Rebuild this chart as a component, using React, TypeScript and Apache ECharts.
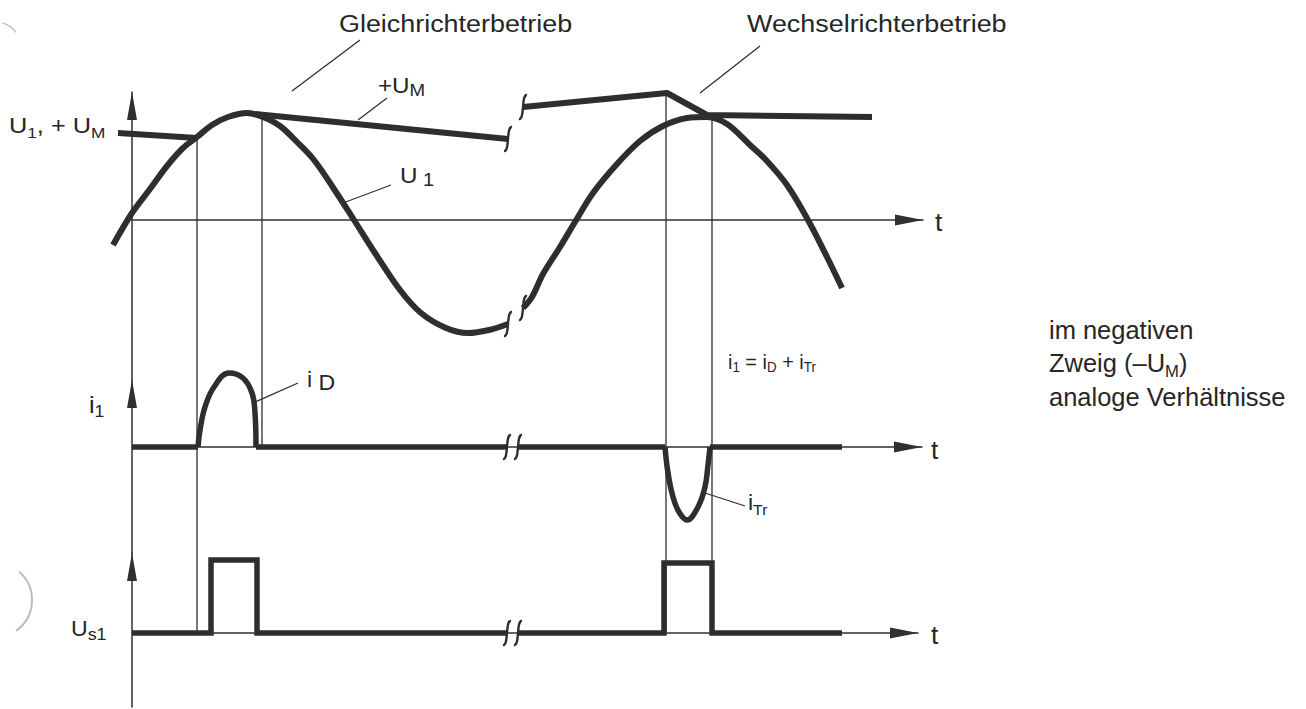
import React, { useEffect, useRef } from "react";
import * as echarts from "echarts";

const FONT = '"Liberation Sans", Arimo, Arial, Helvetica, sans-serif';
const INK = "#2e2e2e";
const THIN = "#303030";
const TEXT = "#262626";

// ---------- Top panel: U1 and +U_M  (t in time units, values in voltage units) ----------
const U1_A: [number, number][] = [
  [-1.9, -2.5], [0, 0.7], [1.8, 3.1], [3.5, 5.4], [5.1, 7.2], [6.5, 8.3], [8.0, 9.5],
  [9.6, 10.3], [11.5, 10.7], [13.1, 10.3], [14.8, 9.4], [16.5, 7.8], [18.2, 6.0],
  [20.2, 3.1], [22.2, 0], [24.3, -3.3], [26.8, -7.0], [28.9, -9.3], [31.4, -10.8],
  [33.6, -11.3], [35.7, -11.0], [37.6, -10.4],
];
const U1_B: [number, number][] = [
  [39.1, -8.8], [40.0, -7.7], [41.1, -5.4], [42.8, -2.7], [44.3, -0.2], [46.1, 2.7],
  [48.5, 5.6], [50.8, 7.9], [53.1, 9.4], [55.5, 10.2], [57.5, 10.3], [59.5, 9.6],
  [61.8, 7.5], [63.4, 6.0], [65.5, 3.5], [67.6, 0], [69.5, -3.7], [71.0, -6.8],
];
const UM_A: [number, number][] = [[-1.4, 8.7], [6.5, 8.2]];
const UM_B: [number, number][] = [[12.3, 10.6], [37.6, 8.1]];
const UM_C: [number, number][] = [[39.1, 11.3], [53.5, 12.7], [57.5, 10.5], [74.0, 10.3]];

// ---------- Middle panel: i1 ----------
const I1_BASE: (number | string)[][] = [
  [0, 0], [6.6, 0], [6.6, "-"], [12.4, 0], [37.5, 0], [37.5, "-"],
  [38.6, 0], [53.3, 0], [53.3, "-"], [57.8, 0], [71.0, 0],
];
const I_D: [number, number][] = [
  [6.6, 0], [6.8, 1.7], [7.3, 4.0], [8.2, 6.0], [9.7, 7.4], [11.1, 6.9], [12.0, 5.4], [12.3, 3.4], [12.4, 0],
];
const I_TR: [number, number][] = [
  [53.3, 0], [53.6, -2.6], [54.1, -5.0], [54.7, -6.5], [55.5, -7.3], [56.6, -6.0], [57.3, -4.0], [57.6, -1.8], [57.8, 0],
];

// ---------- Bottom panel: Us1 (gate pulses) ----------
const US1: (number | string)[][] = [
  [0, 0], [7.9, 0], [7.9, 7.3], [12.5, 7.3], [12.5, 0], [37.5, 0], [37.5, "-"],
  [38.6, 0], [53.2, 0], [53.2, 7.0], [58.0, 7.0], [58.0, 0], [71.0, 0],
];

// switching instants (thin vertical guides)
const SWITCH_T = [6.5, 13.0, 53.4, 58.0];
const SWITCH_TOP_V = [8.2, 10.4, 12.7, 10.4];
const SWITCH_TO_US1 = [true, false, true, true];

// time-axis breaks
const BREAKS_TOP: [number, number][] = [[37.6, 8.1], [39.1, 11.3], [37.6, -10.4], [39.1, -8.8]];
const BREAKS_I1: [number, number][] = [[37.5, 0], [38.6, 0]];
const BREAKS_US1: [number, number][] = [[37.5, 0], [38.6, 0]];

// axis ranges
const Y_RANGES: [number, number][] = [[-16, 12.8], [-10.6, 6.7], [-7.4, 8.0]];
const X_MAX = [79.1, 79.0, 78.6];
const X_MIN_TOP_DATA = -3.2;
const GRID_TOP = [92, 380, 553];
const AXIS_LEFT = 132;
const PX_PER_UNIT = 10;

function richLabel(x: number, y: number, tpl: string, S: number, s: number, d: number, sx: number) {
  const L = Math.round(S * 1.25);
  const h = Math.max(1, L - 0.7 * (S - s) - 2 * d);
  return {
    type: "text",
    x,
    y,
    scaleX: sx,
    silent: true,
    z: 20,
    style: {
      text: tpl,
      fontFamily: FONT,
      fontSize: S,
      fill: TEXT,
      align: "left",
      verticalAlign: "middle",
      rich: {
        n: { fontSize: S, fontFamily: FONT, lineHeight: L, fill: TEXT },
        s: { fontSize: s, fontFamily: FONT, lineHeight: h, verticalAlign: "bottom", fill: TEXT },
      },
    },
  };
}

function leader(x1: number, y1: number, x2: number, y2: number) {
  return {
    type: "line",
    silent: true,
    z: 15,
    shape: { x1, y1, x2, y2 },
    style: { stroke: THIN, lineWidth: 1.3 },
  };
}

function buildOption() {
  // grids 0..2: visible axes (start at t = 0); grid 3: data layer of the top panel (reaches left of the axis)
  const grids: any[] = Y_RANGES.map((r, i) => ({
    left: AXIS_LEFT,
    top: GRID_TOP[i],
    width: X_MAX[i] * PX_PER_UNIT,
    height: (r[1] - r[0]) * PX_PER_UNIT,
    containLabel: false,
  }));
  grids.push({
    left: AXIS_LEFT + X_MIN_TOP_DATA * PX_PER_UNIT,
    top: GRID_TOP[0],
    width: (X_MAX[0] - X_MIN_TOP_DATA) * PX_PER_UNIT,
    height: (Y_RANGES[0][1] - Y_RANGES[0][0]) * PX_PER_UNIT,
    containLabel: false,
  });

  const axisLine = (size: number[]) => ({
    show: true,
    onZero: true,
    symbol: ["none", "triangle"],
    symbolSize: size,
    symbolOffset: [0, -14],
    lineStyle: { color: THIN, width: 1.5 },
  });

  const xAxis: any[] = X_MAX.map((m, i) => ({
    type: "value",
    gridIndex: i,
    min: 0,
    max: m,
    axisLine: axisLine([11, 28]),
    axisTick: { show: false },
    axisLabel: { show: false },
    splitLine: { show: false },
  }));
  xAxis.push({ type: "value", gridIndex: 3, min: X_MIN_TOP_DATA, max: X_MAX[0], show: false });

  const yAxis: any[] = Y_RANGES.map((r, i) => ({
    type: "value",
    gridIndex: i,
    min: r[0],
    max: r[1],
    axisLine: axisLine([10, 28]),
    axisTick: { show: false },
    axisLabel: { show: false },
    splitLine: { show: false },
  }));
  yAxis.push({ type: "value", gridIndex: 3, min: Y_RANGES[0][0], max: Y_RANGES[0][1], show: false });

  const line = (name: string, data: any[], g: number, width: number, smooth: number | boolean, join = "round", z = 5) => ({
    type: "line",
    name,
    xAxisIndex: g,
    yAxisIndex: g,
    data,
    smooth,
    symbol: "none",
    showSymbol: false,
    clip: false,
    connectNulls: false,
    silent: true,
    z,
    lineStyle: { color: INK, width, cap: "butt", join },
  });

  const guideTop = SWITCH_T.flatMap((t, i) => [[t, SWITCH_TOP_V[i]], [t, Y_RANGES[0][0]], [t, "-"]]);
  const guideI1 = SWITCH_T.flatMap((t, i) => [
    [t, Y_RANGES[1][1]],
    [t, SWITCH_TO_US1[i] ? Y_RANGES[1][0] : 0],
    [t, "-"],
  ]);
  const guideUs = SWITCH_T.filter((_, i) => SWITCH_TO_US1[i]).flatMap((t) => [[t, Y_RANGES[2][1]], [t, 0], [t, "-"]]);

  const guide = (name: string, data: any[], g: number) => ({
    type: "line",
    name,
    xAxisIndex: g,
    yAxisIndex: g,
    data,
    symbol: "none",
    showSymbol: false,
    clip: false,
    connectNulls: false,
    silent: true,
    z: 2,
    lineStyle: { color: THIN, width: 1.3 },
  });

  const breaks = (name: string, data: any[], g: number) => ({
    type: "custom",
    name,
    xAxisIndex: g,
    yAxisIndex: g,
    data,
    clip: false,
    silent: true,
    z: 6,
    renderItem: (_p: any, api: any) => {
      const c = api.coord([api.value(0), api.value(1)]);
      return {
        type: "bezierCurve",
        shape: {
          x1: c[0] - 4,
          y1: c[1] + 12,
          cpx1: c[0] + 2,
          cpy1: c[1] + 13,
          cpx2: c[0] - 2,
          cpy2: c[1] - 13,
          x2: c[0] + 4,
          y2: c[1] - 12,
        },
        style: { stroke: INK, lineWidth: 2.4, fill: "none" },
      };
    },
  });

  const graphic: any[] = [
    richLabel(339, 24, "{n|Gleichrichterbetrieb}", 23, 15, 0, 1.17),
    richLabel(747, 24, "{n|Wechselrichterbetrieb}", 23, 15, 0, 1.17),
    richLabel(378, 85, "{n|+U}{s|M}", 22, 17, 5, 1.1),
    richLabel(9, 126, "{n|U}{s|1}{n|, + U}{s|M}", 22, 15, 4, 1.15),
    richLabel(400, 175, "{n|U}{s| 1}", 22, 18, 4, 1.1),
    richLabel(89, 405, "{n|i}{s|1}", 23, 16, 5, 1.1),
    richLabel(307, 380, "{n|i}{s| D}", 22, 22, 12, 1.05),
    richLabel(728, 361, "{n|i}{s|1}{n| = i}{s|D}{n| + i}{s|Tr}", 21, 14, 4, 0.95),
    richLabel(748, 503, "{n|i}{s|Tr}", 22, 15, 5, 1.05),
    richLabel(71, 629, "{n|U}{s|s1}", 22, 17, 4, 1.05),
    richLabel(935, 222, "{n|t}", 25, 16, 0, 1.05),
    richLabel(931, 450, "{n|t}", 25, 16, 0, 1.05),
    richLabel(931, 635, "{n|t}", 25, 16, 0, 1.05),
    richLabel(1049, 330, "{n|im negativen}", 26, 17, 0, 0.98),
    richLabel(1049, 363, "{n|Zweig (–U}{s|M}{n|)}", 26, 17, 4, 0.98),
    richLabel(1049, 397, "{n|analoge Verhältnisse}", 26, 17, 0, 0.98),
    leader(292, 91, 360, 40),
    leader(700, 93, 760, 46),
    leader(358, 120, 387, 98),
    leader(343, 203, 391, 185),
    leader(253, 403, 298, 383),
    leader(705, 493, 745, 506),
    {
      type: "arc",
      silent: true,
      shape: { cx: -6, cy: 600, r: 38, startAngle: -0.85, endAngle: 0.95, clockwise: true },
      style: { stroke: "#bdbdbd", lineWidth: 2, fill: "none" },
    },
    {
      type: "arc",
      silent: true,
      shape: { cx: -4, cy: 46, r: 24, startAngle: -1.3, endAngle: -0.6, clockwise: true },
      style: { stroke: "#bdbdbd", lineWidth: 1.5, fill: "none" },
    },
  ];

  const TOP = 3; // data grid of the top panel

  return {
    animation: false,
    backgroundColor: "#ffffff",
    textStyle: { fontFamily: FONT },
    grid: grids,
    xAxis,
    yAxis,
    graphic,
    series: [
      guide("guides top", guideTop, TOP),
      guide("guides i1", guideI1, 1),
      guide("guides Us1", guideUs, 2),
      line("U1 a", U1_A, TOP, 6, 0.35),
      line("U1 b", U1_B, TOP, 6, 0.35),
      line("+UM a", UM_A, TOP, 6, false),
      line("+UM b", UM_B, TOP, 6, false),
      line("+UM c", UM_C, TOP, 6, false, "round"),
      line("i1 base", I1_BASE, 1, 5.5, false, "miter"),
      line("iD", I_D, 1, 5.5, 0.4),
      line("iTr", I_TR, 1, 5.5, 0.4),
      line("Us1", US1, 2, 5.5, false, "miter"),
      breaks("breaks top", BREAKS_TOP, TOP),
      breaks("breaks i1", BREAKS_I1, 1),
      breaks("breaks Us1", BREAKS_US1, 2),
    ],
  };
}

export default function App() {
  const ref = useRef<HTMLDivElement>(null);
  useEffect(() => {
    if (!ref.current) return;
    const chart = echarts.init(ref.current, null, { renderer: "svg" });
    chart.setOption(buildOption() as any);
    return () => chart.dispose();
  }, []);
  return (
    <div
      ref={ref}
      style={{ position: "fixed", left: 0, top: 0, width: 1306, height: 709, background: "#ffffff" }}
    />
  );
}
